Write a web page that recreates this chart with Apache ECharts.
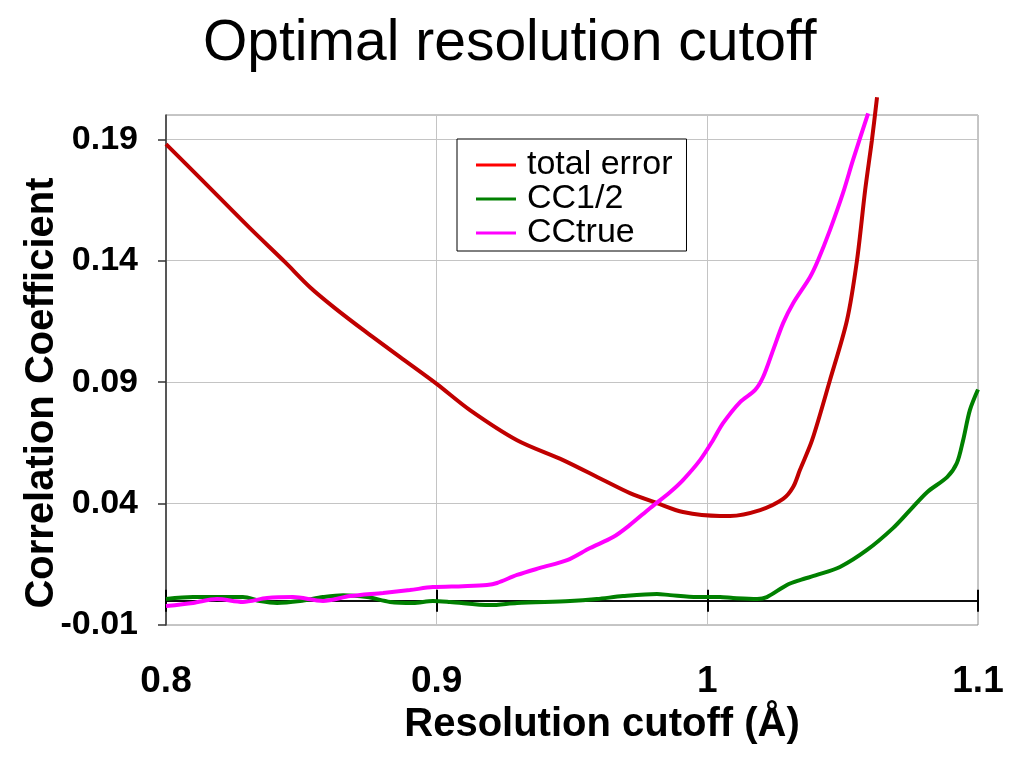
<!DOCTYPE html>
<html>
<head>
<meta charset="utf-8">
<title>Optimal resolution cutoff</title>
<script src="https://cdn.jsdelivr.net/npm/echarts@6.0.0/dist/echarts.min.js"></script>
<style>
  html, body { margin: 0; padding: 0; background: #fff; }
  #main { width: 1024px; height: 768px; }
</style>
</head>
<body>
<div id="main"></div>
<script>
// values
const totalErrX = [0.8, 0.8126, 0.831, 0.844, 0.8532, 0.8624, 0.8735, 0.8865, 0.9001, 0.9123, 0.9297, 0.9467, 0.9615, 0.9714, 0.9814, 0.991, 1.0047, 1.0084, 1.0195, 1.028, 1.0317, 1.0342, 1.0387, 1.0453, 1.0516, 1.0553, 1.0583, 1.0608, 1.0627]
const totalErrY = [0.188, 0.174, 0.1534, 0.1394, 0.1291, 0.1205, 0.111, 0.1003, 0.0892, 0.0785, 0.0661, 0.0579, 0.0497, 0.0443, 0.0402, 0.0365, 0.0349, 0.0349, 0.0373, 0.0419, 0.0468, 0.0538, 0.0661, 0.0908, 0.1155, 0.1402, 0.169, 0.1896, 0.2073]

const cchalfX = [0.8, 0.81, 0.8188, 0.8284, 0.8347, 0.841, 0.8495, 0.858, 0.8654, 0.8743, 0.8828, 0.8913, 0.8986, 0.9049, 0.9197, 0.9297, 0.9493, 0.9592, 0.9688, 0.9814, 0.9862, 0.9962, 1.0047, 1.0095, 1.0184, 1.022, 1.0294, 1.0342, 1.0405, 1.049, 1.059, 1.0686, 1.0749, 1.0812, 1.0886, 1.0922, 1.0945, 1.097, 1.1]
const cchalfY = [0.0007, 0.0015, 0.0015, 0.0015, -0.0001, -0.0009, -0.0001, 0.0015, 0.0023, 0.0015, -0.0005, -0.0009, -0.0001, -0.0005, -0.0018, -0.0009, -0.0001, 0.0007, 0.0019, 0.0028, 0.0023, 0.0015, 0.0015, 0.0011, 0.0007, 0.0015, 0.0065, 0.0085, 0.0106, 0.0139, 0.0209, 0.0299, 0.0373, 0.0447, 0.0509, 0.0567, 0.0661, 0.0785, 0.087]

const cctrueX = [0.8, 0.81, 0.8188, 0.8284, 0.8373, 0.8469, 0.858, 0.868, 0.8802, 0.8901, 0.8986, 0.9097, 0.9186, 0.9223, 0.9297, 0.9382, 0.9482, 0.9567, 0.9652, 0.9714, 0.9788, 0.9862, 0.991, 0.9973, 1.0021, 1.0058, 1.0121, 1.0176, 1.0206, 1.0243, 1.028, 1.0317, 1.0379, 1.0409, 1.0453, 1.0501, 1.0538, 1.0594]
const cctrueY = [-0.0022, -0.0009, 0.0007, -0.0005, 0.0011, 0.0015, -0.0001, 0.0019, 0.0032, 0.0044, 0.0056, 0.006, 0.0065, 0.0073, 0.0106, 0.0135, 0.0167, 0.0217, 0.0262, 0.0312, 0.0381, 0.0447, 0.0497, 0.0579, 0.0661, 0.0731, 0.0818, 0.0867, 0.0921, 0.1032, 0.1143, 0.1225, 0.1332, 0.1402, 0.1526, 0.1678, 0.1814, 0.2007]

const seriesNames = ['total error', 'CC1/2', 'CCtrue']

const FONT = '"Liberation Sans", Arial, Helvetica, sans-serif'

function pairs(xs, ys) {
  return xs.map((x, i) => [x, ys[i]])
}

function lineSeries(name, xs, ys, color) {
  return {
    name: name,
    type: 'line',
    xAxisIndex: 0,
    yAxisIndex: 0,
    data: pairs(xs, ys),
    showSymbol: false,
    smooth: 0.3,
    clip: false,
    lineStyle: { color: color, width: 4 },
    itemStyle: { color: color },
    animation: false
  }
}

// the x axis drawn through y = 0, only line and ticks.
// one copy sits at 'bottom', the other at 'top', both with inside ticks,
// so the ticks cross the line (one half up, one half down)
function zeroAxis(position) {
  return {
    type: 'value',
    min: 0.8,
    max: 1.1,
    interval: 0.1,
    position: position,
    axisLine: { show: true, onZero: true, onZeroAxisIndex: 0, lineStyle: { color: '#000', width: 1.5 } },
    axisTick: { show: true, inside: true, length: 11, lineStyle: { color: '#000', width: 2 } },
    axisLabel: { show: false },
    splitLine: { show: false }
  }
}

const chart = echarts.init(document.getElementById('main'))
chart.setOption({
  backgroundColor: '#fff',
  title: {
    text: 'Optimal resolution cutoff',
    left: 198,
    top: 11,
    textStyle: { fontFamily: FONT, fontSize: 57, fontWeight: 'normal', color: '#000' }
  },
  legend: {
    data: [
      { name: seriesNames[0], itemStyle: { color: '#ff0000' } },
      seriesNames[1],
      seriesNames[2]
    ],
    orient: 'vertical',
    left: 457,
    top: 139,
    icon: 'rect',
    itemWidth: 40,
    itemHeight: 3,
    itemGap: 0,
    padding: [9, 14, 1, 19],
    borderColor: '#000',
    borderWidth: 1,
    backgroundColor: '#fff',
    textStyle: { fontFamily: FONT, fontSize: 34, lineHeight: 34, color: '#000', padding: [0, 0, 0, 6] }
  },
  grid: {
    left: 166,
    right: 46,
    top: 115,
    bottom: 143,
    show: true,
    borderColor: '#8c8c8c',
    borderWidth: 1
  },
  xAxis: [
    {
      type: 'value',
      min: 0.8,
      max: 1.1,
      interval: 0.1,
      position: 'bottom',
      name: 'Resolution cutoff (Å)',
      nameLocation: 'middle',
      nameGap: 79,
      nameTextStyle: { fontFamily: FONT, fontSize: 40, fontWeight: 'bold', color: '#000', padding: [0, 0, 0, 60] },
      axisLine: { show: false, onZero: false },
      axisTick: { show: false },
      axisLabel: {
        margin: 38,
        fontFamily: FONT,
        fontSize: 37,
        fontWeight: 'bold',
        color: '#000',
        formatter: v => String(+v.toFixed(2))
      },
      splitLine: { show: true, lineStyle: { color: '#c4c4c4', width: 1 } }
    },
    zeroAxis('bottom'),
    zeroAxis('top')
  ],
  yAxis: {
    type: 'value',
    min: -0.01,
    max: 0.2,
    interval: 0.05,
    name: 'Correlation Coefficient',
    nameLocation: 'middle',
    nameGap: 104,
    nameMoveOverlap: false,
    nameTextStyle: { fontFamily: FONT, fontSize: 40, fontWeight: 'bold', color: '#000', padding: [0, 46, 0, 0] },
    axisLine: { show: true, onZero: false, lineStyle: { color: '#333', width: 1.5 } },
    axisTick: { show: true, length: 8, lineStyle: { color: '#333', width: 1.5 } },
    axisLabel: {
      margin: 28,
      fontFamily: FONT,
      fontSize: 34,
      fontWeight: 'bold',
      color: '#000',
      formatter: v => v.toFixed(2)
    },
    splitLine: { show: true, lineStyle: { color: '#c4c4c4', width: 1 } }
  },
  series: [
    lineSeries(seriesNames[0], totalErrX, totalErrY, '#c00000'),
    lineSeries(seriesNames[1], cchalfX, cchalfY, '#008000'),
    lineSeries(seriesNames[2], cctrueX, cctrueY, '#ff00ff')
  ]
})
</script>
</body>
</html>
